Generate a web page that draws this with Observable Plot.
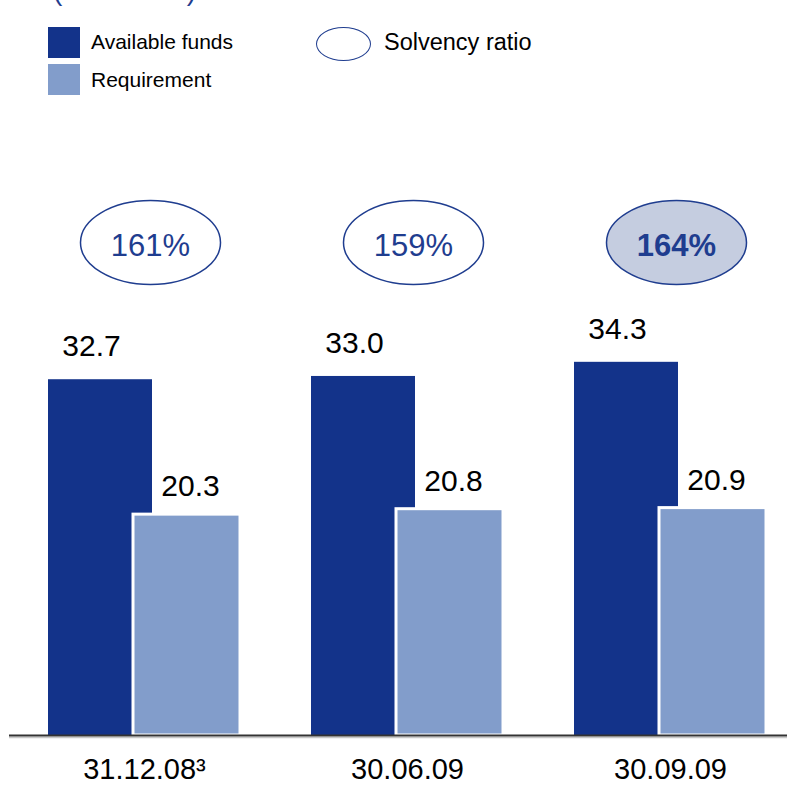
<!DOCTYPE html>
<html>
<head>
<meta charset="utf-8">
<script src="https://cdn.jsdelivr.net/npm/d3@7"></script>
<script src="https://cdn.jsdelivr.net/npm/@observablehq/plot@0.6"></script>
<style>
  body { margin: 0; background: #fff; font-family: "Liberation Sans", Arial, sans-serif; }
  #wrap { position: relative; width: 787px; height: 785px; overflow: hidden; background: #fff; }
  #head { position: relative; width: 787px; height: 110px; }
  .abs { position: absolute; white-space: nowrap; }
  #title { left: 53px; top: -23px; font-size: 28px; line-height: 28px; color: #1f3d8f; }
  .sw { width: 32px; height: 31px; }
  .lg { font-size: 21px; line-height: 24px; color: #000; }
</style>
</head>
<body>
<div id="wrap">
  <div id="head">
    <div id="title" class="abs">(in € billion)</div>
    <div class="abs sw" style="left:48px;top:27px;background:#13338a;"></div>
    <div class="abs lg" style="left:91px;top:30px;">Available funds</div>
    <div class="abs sw" style="left:48px;top:64px;background:#829dcb;"></div>
    <div class="abs lg" style="left:91px;top:68px;">Requirement</div>
    <div class="abs" style="left:316px;top:27px;width:53px;height:32px;border:1.5px solid #1f3d8f;border-radius:50%;"></div>
    <div class="abs lg" style="left:384px;top:30px;font-size:23.5px;">Solvency ratio</div>
  </div>
  <div id="chart"></div>
</div>
<script>
const dates = ["31.12.08³", "30.06.09", "30.09.09"];
const availableFunds = [32.7, 33.0, 34.3];
const requirement = [20.3, 20.8, 20.9];
const solvencyRatio = [161, 159, 164];

const darkBlue = "#13338a";
const lightBlue = "#829dcb";
const ratioBlue = "#1f3d8f";

const funds = dates.map((date, i) => ({date, value: availableFunds[i]}));
const reqs = dates.map((date, i) => ({date, value: requirement[i]}));
const ratios = dates.map((date, i) => ({date, value: solvencyRatio[i], latest: i === dates.length - 1}));

// custom ellipse symbol (rx = r, ry = 0.6 r)
const ellipseSymbol = {
  draw(ctx, size) {
    const rx = Math.sqrt(size / Math.PI), ry = rx * 0.6, k = 0.5523;
    ctx.moveTo(rx, 0);
    ctx.bezierCurveTo(rx, ry * k, rx * k, ry, 0, ry);
    ctx.bezierCurveTo(-rx * k, ry, -rx, ry * k, -rx, 0);
    ctx.bezierCurveTo(-rx, -ry * k, -rx * k, -ry, 0, -ry);
    ctx.bezierCurveTo(rx * k, -ry, rx, -ry * k, rx, 0);
    ctx.closePath();
  }
};

const chart = Plot.plot({
  width: 787,
  height: 675,
  marginLeft: 9,
  marginRight: 0,
  marginTop: 81,
  marginBottom: 50,
  style: {fontFamily: "'Liberation Sans', Arial, sans-serif", background: "white"},
  x: {type: "band", domain: dates, range: [48, 766], paddingInner: 0.27, paddingOuter: 0, axis: null},
  y: {domain: [0, 50], axis: null},
  marks: [
    Plot.rectY(funds, {x: "date", y: "value", fill: darkBlue, insetRight: 88}),
    Plot.rectY(reqs, {x: "date", y: "value", fill: lightBlue, insetLeft: 85, stroke: "white", strokeWidth: 3}),
    Plot.text(funds, {x: "date", y: "value", text: d => d.value.toFixed(1), dx: -53, dy: -33, fontSize: 30, fill: "black"}),
    Plot.text(reqs, {x: "date", y: "value", text: d => d.value.toFixed(1), dx: 46, dy: -28, fontSize: 30, fill: "black"}),
    Plot.dot(ratios, {x: "date", frameAnchor: "top", dy: 51, dx: 6, r: 70, symbol: ellipseSymbol,
      fill: d => d.latest ? "#c5cde0" : "white", stroke: ratioBlue, strokeWidth: 1.5}),
    Plot.text(ratios.filter(d => !d.latest), {x: "date", frameAnchor: "top", dy: 42, dx: 6, text: d => d.value + "%", fontSize: 31, fill: ratioBlue}),
    Plot.text(ratios.filter(d => d.latest), {x: "date", frameAnchor: "top", dy: 42, dx: 6, text: d => d.value + "%", fontSize: 31, fontWeight: "bold", fill: ratioBlue}),
    Plot.ruleY([0], {stroke: "#c8c8c8", strokeWidth: 1.5, dy: 2}),
    Plot.ruleY([0], {stroke: "#333", strokeWidth: 2}),
    Plot.axisX({tickSize: 0, tickPadding: 23, fontSize: 29, fill: "black", label: null})
  ]
});
document.getElementById("chart").appendChild(chart);
</script>
</body>
</html>
